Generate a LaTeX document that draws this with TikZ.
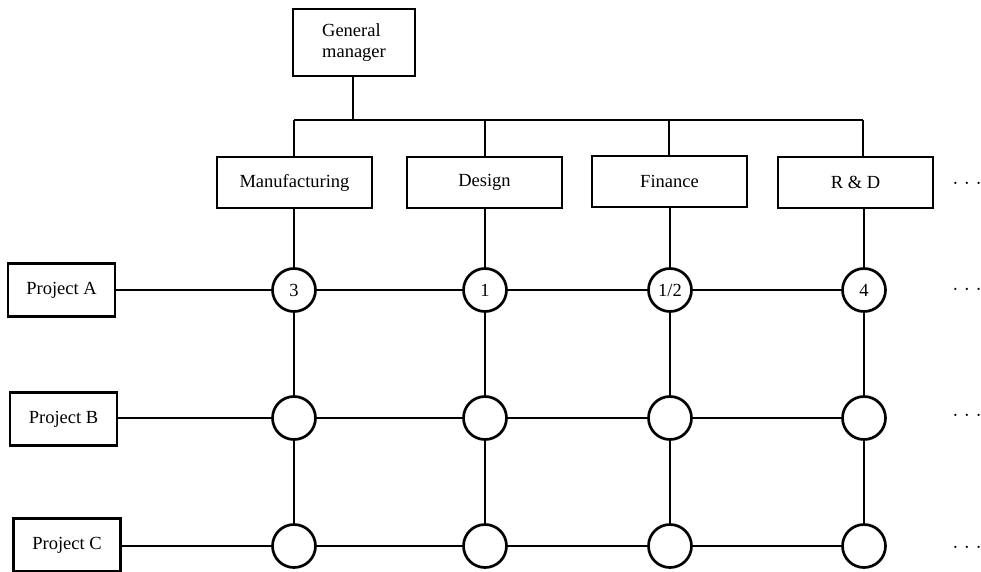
\documentclass[tikz,border=0pt]{standalone}
\usepackage{fontspec}
\setmainfont{Liberation Serif}
\begin{document}
\begin{tikzpicture}[x=1pt,y=-1pt,
  every node/.style={font=\fontsize{18.5}{21}\selectfont},
  box/.style={draw, line width=2.5pt, rectangle, inner sep=0pt},
  deptbox/.style={box, minimum width=155pt, minimum height=51pt},
  projbox/.style={box, minimum width=107pt, minimum height=53pt},
  cell/.style={draw, line width=2.7pt, circle, fill=white, minimum size=43pt, inner sep=0pt},
  link/.style={line width=2.5pt},
  more/.style={inner sep=0pt}
]
\useasboundingbox (0,0) rectangle (981,572);

% top of the hierarchy
\node[box, minimum width=122pt, minimum height=67pt, align=left] (gm) at (354,42.5)
  {General\\manager};

% functional departments
\node[deptbox] (mf) at (294.5,182.5) {Manufacturing};
\node[deptbox] (de) at (484.5,182.5) {Design};
\node[deptbox] (fi) at (669.5,181.5) {Finance};
\node[deptbox] (rd) at (855.5,182.5) {R \& D};

% projects
\node[projbox] (pa) at (61.5,290) {Project A};
\node[projbox] (pb) at (63.5,419) {Project B};
\node[projbox] (pc) at (67,545) {Project C};

% bus from the general manager to the departments
\coordinate (bg) at (353,120);
\coordinate (b1) at (294,120);
\coordinate (b2) at (485,120);
\coordinate (b3) at (669,120);
\coordinate (b4) at (863,120);
\draw[link] (gm.south -| bg) -- (bg);
\draw[link] (b1) -- (b4);
\foreach \b/\d in {b1/mf, b2/de, b3/fi, b4/rd}
  \draw[link] (\b) -- (\b |- \d.north);

% matrix cells
\foreach \r/\y in {A/290, B/418, C/546}{
  \foreach \c/\x in {1/294, 2/485, 3/670, 4/864}{
    \node[cell] (c\r\c) at (\x,\y) {};
  }
}
\node at (cA1) {3};
\node at (cA2) {1};
\node at (cA3) {1/2};
\node at (cA4) {4};

% department columns
\foreach \d/\c in {mf/1, de/2, fi/3, rd/4}{
  \draw[link] (cA\c |- \d.south) -- (cA\c);
  \draw[link] (cA\c) -- (cB\c);
  \draw[link] (cB\c) -- (cC\c);
}

% project rows
\foreach \p/\r in {pa/A, pb/B, pc/C}{
  \draw[link] (\p.east |- c\r1) -- (c\r1);
  \draw[link] (c\r1) -- (c\r2);
  \draw[link] (c\r2) -- (c\r3);
  \draw[link] (c\r3) -- (c\r4);
}

% continuation marks
\newcommand{\moredots}{\textperiodcentered\hspace{5.5pt}\textperiodcentered\hspace{5.5pt}\textperiodcentered}
\node[more] (m0) at (967,186) {\moredots};
\node[more] (m1) at (967,292) {\moredots};
\node[more] (m2) at (967,418) {\moredots};
\node[more] (m3) at (967,550) {\moredots};
\end{tikzpicture}
\end{document}
